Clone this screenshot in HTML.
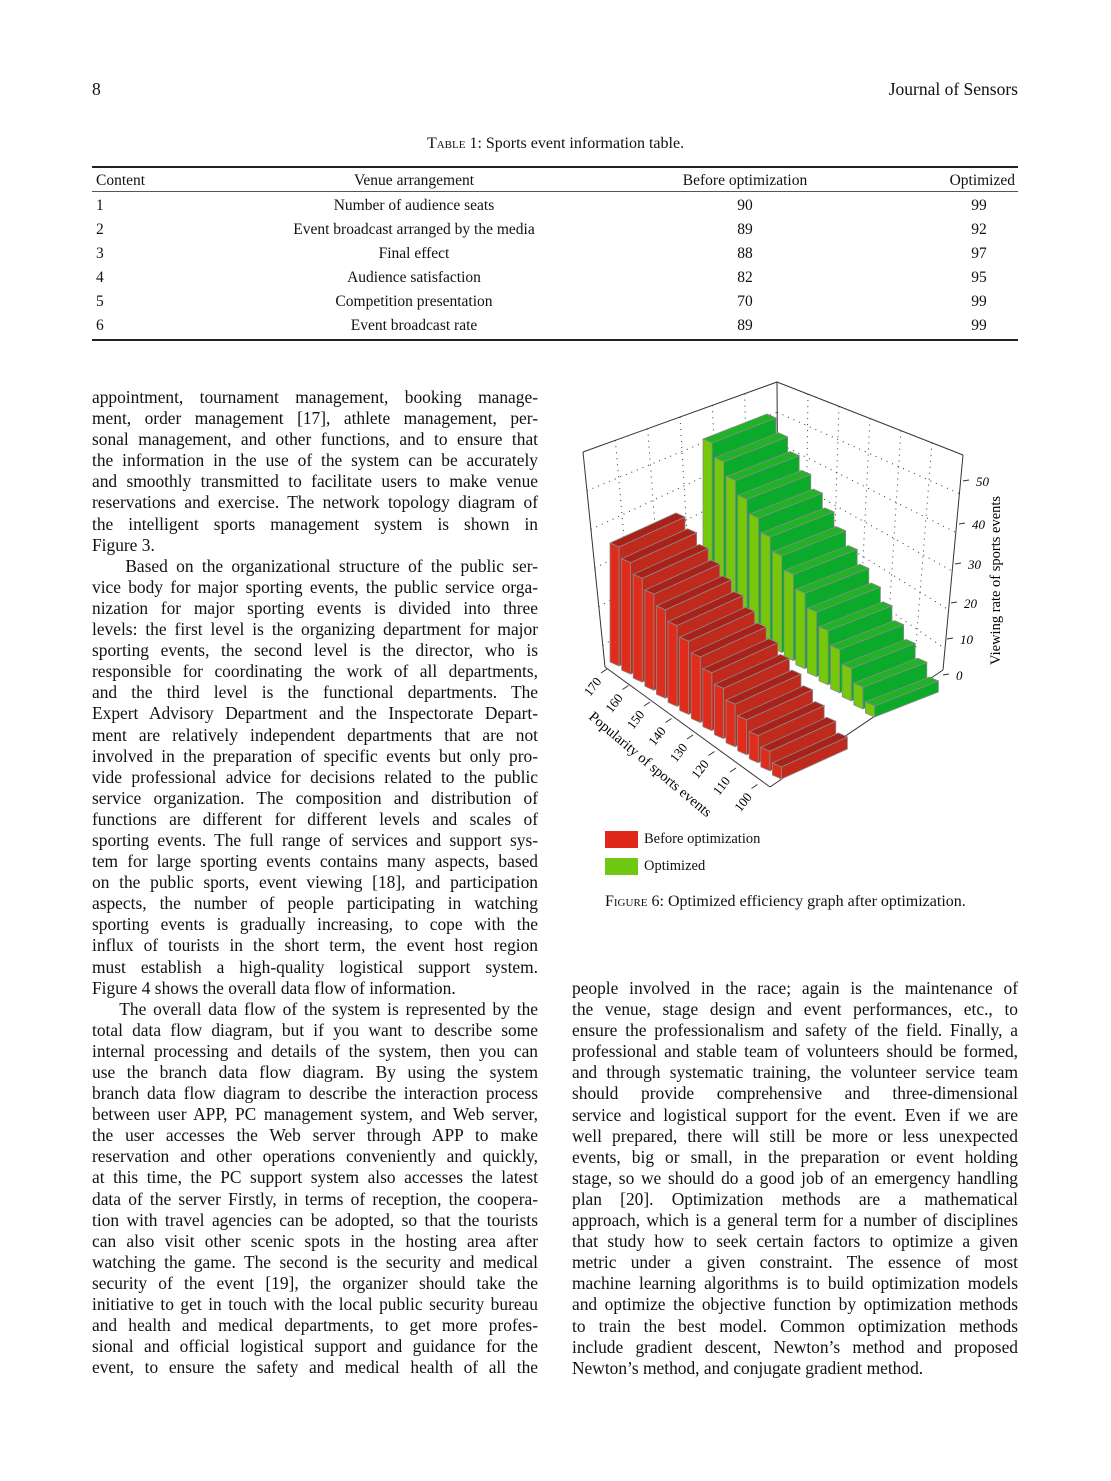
<!DOCTYPE html>
<html><head><meta charset="utf-8"><style>
body{margin:0;width:1111px;height:1481px;background:#fff;position:relative;font-family:"Liberation Serif",serif;color:#111;overflow:hidden}
.a{position:absolute;white-space:nowrap}
.col{position:absolute;width:446px;font-size:17.4px;line-height:21.1px}
.col div{text-align:justify;text-align-last:justify;white-space:nowrap;height:21.1px}
.col div.l{text-align-last:left}
.t{position:absolute;font-size:15.5px;white-space:nowrap}
.sc{font-variant:small-caps}
</style></head><body>
<div class="a" style="left:92px;top:79px;font-size:17.5px">8</div>
<div class="a" style="right:93px;top:79px;font-size:17.5px">Journal of Sensors</div>
<div class="a" style="left:0;width:1111px;text-align:center;top:135px;font-size:16px"><span class="sc">Table</span> 1: Sports event information table.</div>
<div style="position:absolute;left:92px;top:166px;width:926px;height:2px;background:#222"></div>
<div style="position:absolute;left:92px;top:191px;width:926px;height:1px;background:#555"></div>
<div style="position:absolute;left:92px;top:339px;width:926px;height:2px;background:#222"></div>
<div class="t" style="left:96px;top:172px">Content</div>
<div class="t" style="left:314px;width:200px;text-align:center;top:172px">Venue arrangement</div>
<div class="t" style="left:645px;width:200px;text-align:center;top:172px">Before optimization</div>
<div class="t" style="right:96px;top:172px">Optimized</div>
<div id="rows"></div>
<div class="col" style="left:92px;top:387px">
<div>appointment, tournament management, booking manage-</div>
<div>ment, order management [17], athlete management, per-</div>
<div>sonal management, and other functions, and to ensure that</div>
<div>the information in the use of the system can be accurately</div>
<div>and smoothly transmitted to facilitate users to make venue</div>
<div>reservations and exercise. The network topology diagram of</div>
<div>the intelligent sports management system is shown in</div>
<div class="l">Figure 3.</div>
<div>&nbsp;&nbsp;&nbsp;&nbsp;Based on the organizational structure of the public ser-</div>
<div>vice body for major sporting events, the public service orga-</div>
<div>nization for major sporting events is divided into three</div>
<div>levels: the first level is the organizing department for major</div>
<div>sporting events, the second level is the director, who is</div>
<div>responsible for coordinating the work of all departments,</div>
<div>and the third level is the functional departments. The</div>
<div>Expert Advisory Department and the Inspectorate Depart-</div>
<div>ment are relatively independent departments that are not</div>
<div>involved in the preparation of specific events but only pro-</div>
<div>vide professional advice for decisions related to the public</div>
<div>service organization. The composition and distribution of</div>
<div>functions are different for different levels and scales of</div>
<div>sporting events. The full range of services and support sys-</div>
<div>tem for large sporting events contains many aspects, based</div>
<div>on the public sports, event viewing [18], and participation</div>
<div>aspects, the number of people participating in watching</div>
<div>sporting events is gradually increasing, to cope with the</div>
<div>influx of tourists in the short term, the event host region</div>
<div>must establish a high-quality logistical support system.</div>
<div class="l">Figure 4 shows the overall data flow of information.</div>
<div>&nbsp;&nbsp;&nbsp;&nbsp;The overall data flow of the system is represented by the</div>
<div>total data flow diagram, but if you want to describe some</div>
<div>internal processing and details of the system, then you can</div>
<div>use the branch data flow diagram. By using the system</div>
<div>branch data flow diagram to describe the interaction process</div>
<div>between user APP, PC management system, and Web server,</div>
<div>the user accesses the Web server through APP to make</div>
<div>reservation and other operations conveniently and quickly,</div>
<div>at this time, the PC support system also accesses the latest</div>
<div>data of the server Firstly, in terms of reception, the coopera-</div>
<div>tion with travel agencies can be adopted, so that the tourists</div>
<div>can also visit other scenic spots in the hosting area after</div>
<div>watching the game. The second is the security and medical</div>
<div>security of the event [19], the organizer should take the</div>
<div>initiative to get in touch with the local public security bureau</div>
<div>and health and medical departments, to get more profes-</div>
<div>sional and official logistical support and guidance for the</div>
<div>event, to ensure the safety and medical health of all the</div>
</div>
<div class="col" style="left:572px;top:978px">
<div>people involved in the race; again is the maintenance of</div>
<div>the venue, stage design and event performances, etc., to</div>
<div>ensure the professionalism and safety of the field. Finally, a</div>
<div>professional and stable team of volunteers should be formed,</div>
<div>and through systematic training, the volunteer service team</div>
<div>should provide comprehensive and three-dimensional</div>
<div>service and logistical support for the event. Even if we are</div>
<div>well prepared, there will still be more or less unexpected</div>
<div>events, big or small, in the preparation or event holding</div>
<div>stage, so we should do a good job of an emergency handling</div>
<div>plan [20]. Optimization methods are a mathematical</div>
<div>approach, which is a general term for a number of disciplines</div>
<div>that study how to seek certain factors to optimize a given</div>
<div>metric under a given constraint. The essence of most</div>
<div>machine learning algorithms is to build optimization models</div>
<div>and optimize the objective function by optimization methods</div>
<div>to train the best model. Common optimization methods</div>
<div>include gradient descent, Newton’s method and proposed</div>
<div class="l">Newton’s method, and conjugate gradient method.</div>
</div>
<svg id="ch" style="position:absolute;left:0;top:0" width="1111" height="1481" font-family="Liberation Serif, serif"></svg>
<div class="a" style="left:605px;top:831px;width:33px;height:17px;background:#e0281a"></div>
<div class="a" style="left:644px;top:831px;font-size:14.5px">Before optimization</div>
<div class="a" style="left:605px;top:858px;width:33px;height:17px;background:#6fc812"></div>
<div class="a" style="left:644px;top:858px;font-size:14.5px">Optimized</div>
<div class="a" style="left:605px;top:893px;font-size:16px"><span class="sc">Figure</span> 6: Optimized efficiency graph after optimization.</div>
<script>
var rows=[["1","Number of audience seats","90","99"],["2","Event broadcast arranged by the media","89","92"],["3","Final effect","88","97"],["4","Audience satisfaction","82","95"],["5","Competition presentation","70","99"],["6","Event broadcast rate","89","99"]];
var h="";rows.forEach(function(r,i){var y=197+i*24;
h+='<div class="t" style="left:96px;top:'+y+'px">'+r[0]+'</div><div class="t" style="left:264px;width:300px;text-align:center;top:'+y+'px">'+r[1]+'</div><div class="t" style="left:645px;width:200px;text-align:center;top:'+y+'px">'+r[2]+'</div><div class="t" style="left:930px;width:98px;text-align:center;top:'+y+'px">'+r[3]+'</div>';});
document.getElementById("rows").innerHTML=h;
var s="";
function L(a,b,c,d,ex){s+='<line x1="'+a+'" y1="'+b+'" x2="'+c+'" y2="'+d+'" stroke="#333" stroke-width="1" '+(ex||'')+'/>';}
for(var k=1;k<6;k++){var f=k/6;L(583+(777-583)*f,452-(452-382)*f,605+(778-605)*f,667-(667-550)*f,'stroke-dasharray="1,5" stroke="#888"');L(777+(963-777)*f,382+(455-382)*f,778+(943-778)*f,550+(670-550)*f,'stroke-dasharray="1,5" stroke="#888"');}
for(var k=1;k<6;k++){var y=k*0.18;L(583+22*y,452+215*y,777,382+168*y,'stroke-dasharray="1,5" stroke="#888"');L(777,382+168*y,963-20*y,455+215*y,'stroke-dasharray="1,5" stroke="#888"');}
L(583,452,777,382);L(777,382,963,455);L(777,382,778,550,'stroke="#999"');
L(583,452,605,667);L(963,455,943,670);L(605,667,770,787);L(770,787,943,670);
function P(pts,c){s+='<polygon points="'+pts.map(function(p){return p[0].toFixed(1)+','+p[1].toFixed(1)}).join(' ')+'" fill="'+c+'" stroke="#8a8a8a" stroke-width="0.8"/>';}
function bars(x0,y0,h0,h1,d,cf,ct,cs){for(var i=0;i<15;i++){var t=i/14,bx=x0+11.6*i,by=y0+8.07*i,hh=h0-(h0-h1)*t,w=[9,4];
var A=[bx,by],B=[bx+w[0],by+w[1]],C=[B[0],B[1]-hh],D=[bx,by-hh];
P([B,C,[C[0]+d[0],C[1]+d[1]],[B[0]+d[0],B[1]+d[1]]],cs);
P([D,C,[C[0]+d[0],C[1]+d[1]],[D[0]+d[0],D[1]+d[1]]],ct);
P([A,B,C,D],cf);}}
bars(703,600,161,11,[64,-25],"#78c80a","#22b228","#0caa2a");
bars(610,662,119,12,[66,-30],"#e02c1a","#a8221a","#bf2a1c");
var yl=[[0,680],[10,644],[20,608],[30,569],[40,529],[50,486]];
yl.forEach(function(v,i){var x=943+4*i;L(x,v[1]-5,x+6,v[1]-6);s+='<text x="'+(x+13)+'" y="'+v[1]+'" font-size="13" font-style="italic">'+v[0]+'</text>';});
s+='<text transform="translate(1000,665) rotate(-90)" font-size="14.5">Viewing rate of sports events</text>';
var xl=[170,160,150,140,130,120,110,100];
xl.forEach(function(v,i){var x=607+21.5*i,y=669+16.5*i;L(x,y,x-6,y+4);s+='<text transform="translate('+(x-17)+','+(y+28)+') rotate(-52)" font-size="13">'+v+'</text>';});
s+='<text transform="translate(588,718) rotate(40)" font-size="14.5">Popularity of sports events</text>';
document.getElementById("ch").innerHTML=s;
</script>
</body></html>
